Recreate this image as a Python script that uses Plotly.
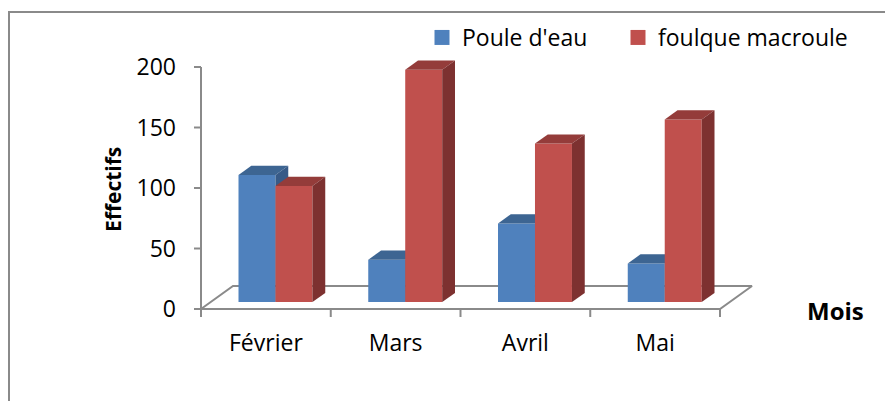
import plotly.graph_objects as go

# ---- data ----
months = ["Février", "Mars", "Avril", "Mai"]
poule_d_eau = [105, 35, 65, 32]
foulque_macroule = [96, 192, 131, 151]
series_names = ["Poule d'eau", "foulque macroule"]
y_ticks = [0, 50, 100, 150, 200]

# ---- styling ----
W, H = 885, 401
FONT = "Open Sans"
AXIS_GREY = "#8a8a8a"
FACE_COLORS = [
    {"front": "#4F81BD", "top": "#3D6592", "side": "#375A87"},
    {"front": "#C0504D", "top": "#943C3A", "side": "#7D3130"},
]

# plot area in pixels and the axis ranges that go with it
PX_L, PX_R, PX_T, PX_B = 185, 875, 50, 322
X_PER_UNIT = 129.75          # pixels per category
Y_PER_UNIT = 1.21            # pixels per value unit
X0_PX, Y0_PX = 201, 309      # where x=-0.5 / value 0 sit
x_range = [-0.5 - (X0_PX - PX_L) / X_PER_UNIT, -0.5 + (PX_R - X0_PX) / X_PER_UNIT]
y_range = [-(PX_B - Y0_PX) / Y_PER_UNIT, (Y0_PX - PX_T) / Y_PER_UNIT]

# oblique depth of the floor, in data units
FLOOR_DX = 32 / X_PER_UNIT
FLOOR_DY = 23 / Y_PER_UNIT
BAR_D0, BAR_D1 = 0.3, 0.7    # columns occupy this slice of the floor depth
BAR_W = 0.285

n = len(months)


def paper_x(px):
    return (px - PX_L) / (PX_R - PX_L)


def paper_y(py):
    return (PX_B - py) / (PX_B - PX_T)


fig = go.Figure()


def poly(xs, ys, fill, line=None, width=0, hover=None):
    fig.add_trace(go.Scatter(
        x=xs + [xs[0]], y=ys + [ys[0]], mode="lines", fill="toself",
        fillcolor=fill, line=dict(color=line or fill, width=width),
        hoverinfo="text" if hover else "skip", text=hover, hoveron="fills",
        showlegend=False))


def seg(xs, ys, width=2):
    fig.add_trace(go.Scatter(
        x=xs, y=ys, mode="lines", line=dict(color=AXIS_GREY, width=width),
        hoverinfo="skip", showlegend=False))


# floor (white parallelogram with grey outline)
fl, fr = -0.5, n - 0.5
poly([fl, fr, fr + FLOOR_DX, fl + FLOOR_DX], [0, 0, FLOOR_DY, FLOOR_DY],
     "white", AXIS_GREY, 2)

# value axis line and its tick marks
seg([-0.5, -0.5], [0, y_ticks[-1]])
tick_len = 7 / X_PER_UNIT
for t in y_ticks:
    seg([-0.5 - tick_len, -0.5], [t, t])

# category boundary tick marks on the front edge
tick_down = 8 / Y_PER_UNIT
for b in range(n + 1):
    seg([b - 0.5, b - 0.5], [0, -tick_down])

# 3D columns: front, top and right-hand faces, drawn back-to-front per month
d_dx = (BAR_D1 - BAR_D0) * FLOOR_DX
d_dy = (BAR_D1 - BAR_D0) * FLOOR_DY
base_x = BAR_D0 * FLOOR_DX
base_y = BAR_D0 * FLOOR_DY
values = [poule_d_eau, foulque_macroule]
for i in range(n):
    for s in range(2):
        v = values[s][i]
        c = FACE_COLORS[s]
        xl = i + (s - 1) * BAR_W + base_x
        xr = xl + BAR_W
        yb, yt = base_y, base_y + v
        poly([xl, xr, xr, xl], [yb, yb, yt, yt], c["front"],
             hover=f"{months[i]}<br>{series_names[s]} : {v}")
        poly([xl, xr, xr + d_dx, xl + d_dx], [yt, yt, yt + d_dy, yt + d_dy], c["top"])
        poly([xr, xr + d_dx, xr + d_dx, xr], [yb, yb + d_dy, yt + d_dy, yt], c["side"])

# legend entries, one legend box per series
legend_ids = ["legend", "legend2"]
for s in range(2):
    fig.add_trace(go.Scatter(
        x=[None], y=[None], mode="markers", name=series_names[s],
        marker=dict(symbol="square", size=15, color=FACE_COLORS[s]["front"]),
        showlegend=True, legend=legend_ids[s]))

# chart frame
fig.add_shape(type="rect", xref="paper", yref="paper",
              x0=paper_x(9), x1=paper_x(W + 20), y0=paper_y(H + 20), y1=paper_y(12),
              line=dict(color=AXIS_GREY, width=2), fillcolor="rgba(0,0,0,0)",
              layer="below")

# axis titles
fig.add_annotation(text="<b>Effectifs</b>", xref="paper", yref="paper",
                   x=paper_x(113), y=paper_y(190), xanchor="center", yanchor="middle",
                   textangle=-90, showarrow=False,
                   font=dict(family=FONT, size=21, color="black"))
fig.add_annotation(text="<b>Mois</b>", xref="paper", yref="paper",
                   x=paper_x(835), y=paper_y(310), xanchor="center", yanchor="middle",
                   showarrow=False,
                   font=dict(family=FONT, size=24, color="black"))

legend_style = dict(orientation="h", xanchor="left", yanchor="top",
                    font=dict(family=FONT, size=23), bgcolor="rgba(0,0,0,0)",
                    y=paper_y(16))

fig.update_layout(
    width=W, height=H,
    margin=dict(l=PX_L, r=W - PX_R, t=PX_T, b=H - PX_B, autoexpand=False),
    paper_bgcolor="white", plot_bgcolor="rgba(0,0,0,0)",
    font=dict(family=FONT, size=23, color="black"),
    xaxis=dict(range=x_range, tickvals=list(range(n)), ticktext=months,
               ticks="", showgrid=False, zeroline=False, showline=False,
               ticklabelstandoff=5, fixedrange=True),
    yaxis=dict(range=y_range, tickvals=y_ticks, ticks="", showgrid=False,
               zeroline=False, showline=False, ticklabelstandoff=8,
               fixedrange=True),
    legend=dict(x=paper_x(422), **legend_style),
    legend2=dict(x=paper_x(618), **legend_style),
    showlegend=True,
)

fig.write_html("out.html")
